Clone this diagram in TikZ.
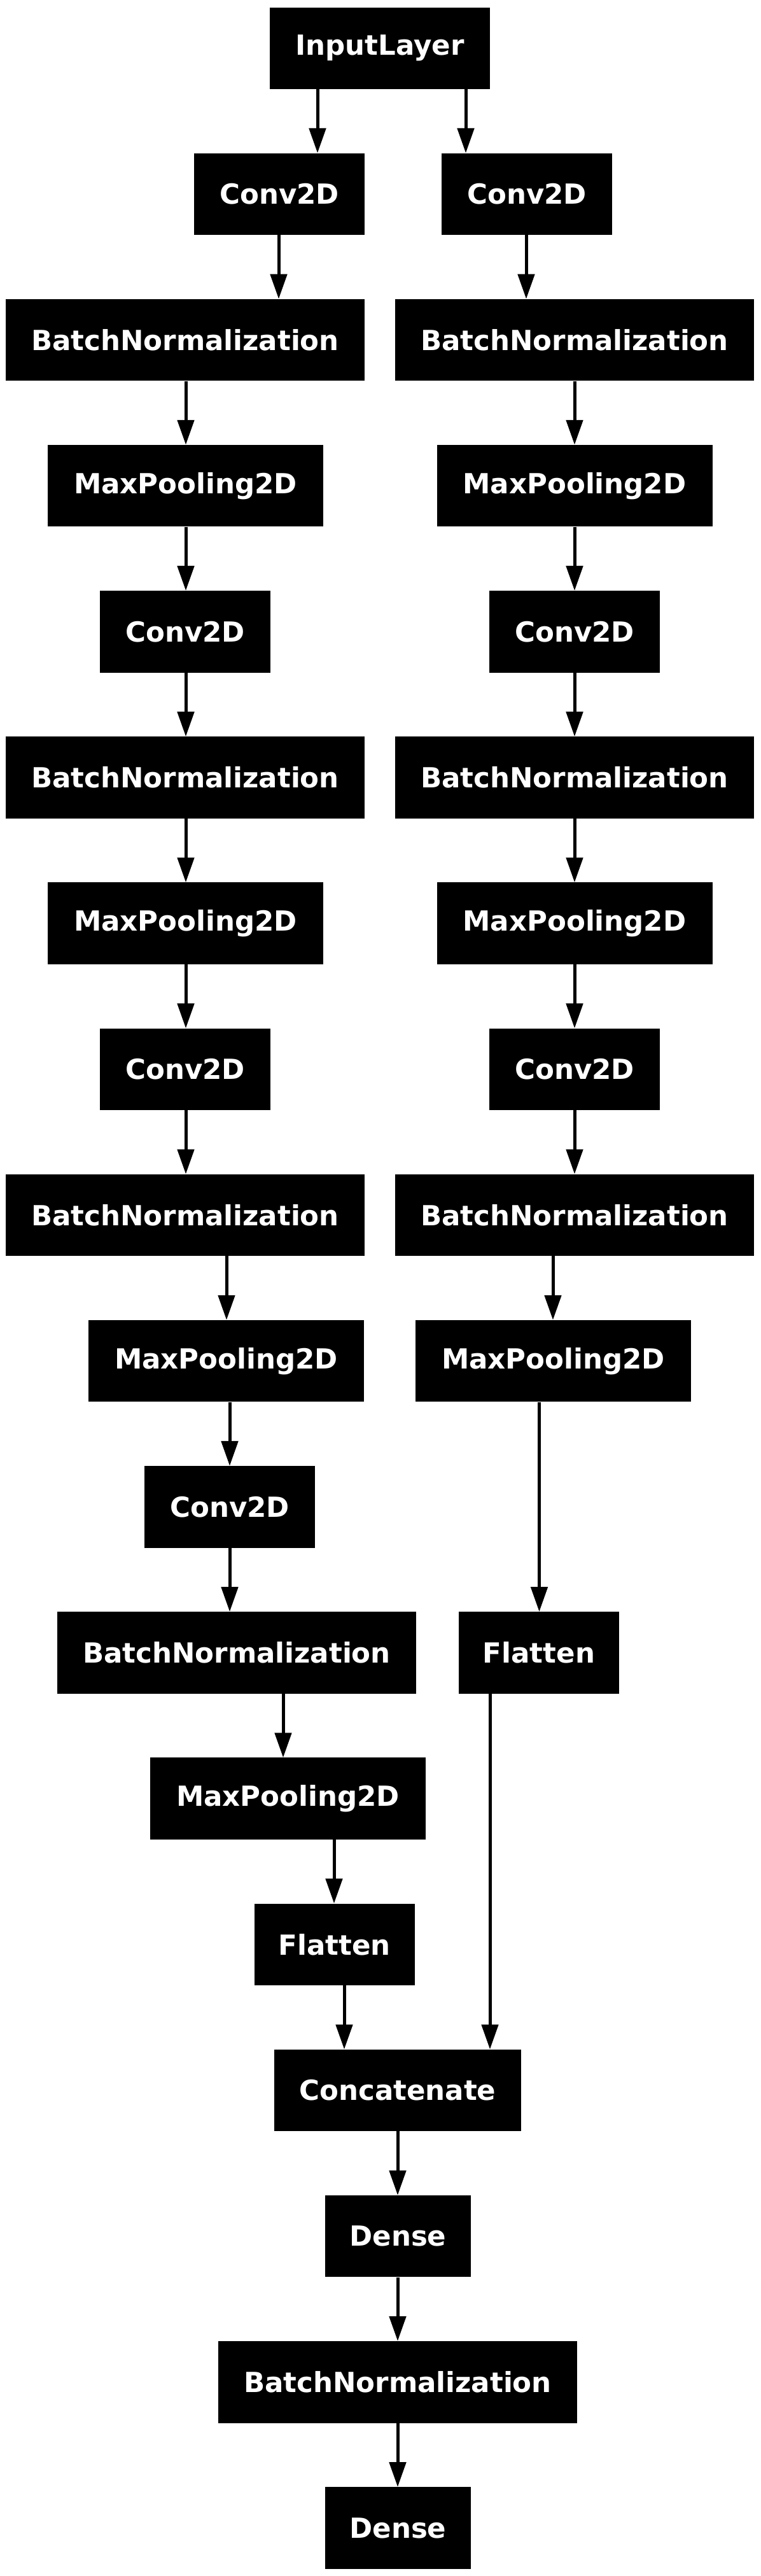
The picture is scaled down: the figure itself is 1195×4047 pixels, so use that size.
\documentclass[tikz,border=0pt]{standalone}
\usepackage{fontspec}
\setmainfont{DejaVu Sans}
\usetikzlibrary{arrows.meta}
\begin{document}
\begin{tikzpicture}[x=1pt,y=-1pt,
  lay/.style={fill=black, draw=none, text=white, inner sep=0pt,
    minimum height=128.5pt, font=\fontsize{43.5}{50}\selectfont\bfseries},
  wIn/.style={lay, minimum width=345.5pt},
  wConv/.style={lay, minimum width=268pt},
  wBN/.style={lay, minimum width=564pt},
  wMP/.style={lay, minimum width=433pt},
  wFl/.style={lay, minimum width=252pt},
  wCat/.style={lay, minimum width=388pt},
  wDen/.style={lay, minimum width=229pt},
  arr/.style={line width=5pt, -{Triangle[length=39pt, width=26pt]}}]
\useasboundingbox (0,0) rectangle (1195,4047);
% rows
\node[wIn]   (in)   at (597,   75.75) {InputLayer};
\node[wConv] (c1l)  at (439,  304.9) {Conv2D};
\node[wConv] (c1r)  at (828,  304.9) {Conv2D};
\node[wBN]   (b1l)  at (291,  534.1) {BatchNormalization};
\node[wBN]   (b1r)  at (903,  534.1) {BatchNormalization};
\node[wMP]   (m1l)  at (291.5,763.2) {MaxPooling2D};
\node[wMP]   (m1r)  at (903,  763.2) {MaxPooling2D};
\node[wConv] (c2l)  at (291,  992.4) {Conv2D};
\node[wConv] (c2r)  at (903,  992.4) {Conv2D};
\node[wBN]   (b2l)  at (291, 1221.6) {BatchNormalization};
\node[wBN]   (b2r)  at (903, 1221.6) {BatchNormalization};
\node[wMP]   (m2l)  at (291.5,1450.7) {MaxPooling2D};
\node[wMP]   (m2r)  at (903, 1450.7) {MaxPooling2D};
\node[wConv] (c3l)  at (291, 1679.9) {Conv2D};
\node[wConv] (c3r)  at (903, 1679.9) {Conv2D};
\node[wBN]   (b3l)  at (291, 1909.0) {BatchNormalization};
\node[wBN]   (b3r)  at (903, 1909.0) {BatchNormalization};
\node[wMP]   (m3l)  at (355.5,2138.2) {MaxPooling2D};
\node[wMP]   (m3r)  at (869.5,2138.2) {MaxPooling2D};
\node[wConv] (c4l)  at (361, 2367.4) {Conv2D};
\node[wBN]   (b4l)  at (372, 2596.5) {BatchNormalization};
\node[wFl]   (flr)  at (847, 2596.5) {Flatten};
\node[wMP]   (m4l)  at (452.5,2825.7) {MaxPooling2D};
\node[wFl]   (fll)  at (525.5,3054.8) {Flatten};
\node[wCat]  (cat)  at (625, 3284.0) {Concatenate};
\node[wDen]  (d1)   at (625.5,3513.2) {Dense};
\node[wBN]   (b5)   at (625, 3742.3) {BatchNormalization};
\node[wDen]  (d2)   at (625.5,3971.5) {Dense};
% connectors
\draw[arr] (in.south -| 499,0) -- (c1l.north -| 499,0);
\draw[arr] (in.south -| 732,0) -- (c1r.north -| 732,0);
\draw[arr] (c1l.south -| 438,0) -- (b1l.north -| 438,0);
\draw[arr] (c1r.south -| 827,0) -- (b1r.north -| 827,0);
\draw[arr] (b1l.south -| 292,0) -- (m1l.north -| 292,0);
\draw[arr] (b1r.south -| 903,0) -- (m1r.north -| 903,0);
\draw[arr] (m1l.south -| 292,0) -- (c2l.north -| 292,0);
\draw[arr] (m1r.south -| 903,0) -- (c2r.north -| 903,0);
\draw[arr] (c2l.south -| 292,0) -- (b2l.north -| 292,0);
\draw[arr] (c2r.south -| 903,0) -- (b2r.north -| 903,0);
\draw[arr] (b2l.south -| 292,0) -- (m2l.north -| 292,0);
\draw[arr] (b2r.south -| 903,0) -- (m2r.north -| 903,0);
\draw[arr] (m2l.south -| 292,0) -- (c3l.north -| 292,0);
\draw[arr] (m2r.south -| 903,0) -- (c3r.north -| 903,0);
\draw[arr] (c3l.south -| 292,0) -- (b3l.north -| 292,0);
\draw[arr] (c3r.south -| 903,0) -- (b3r.north -| 903,0);
\draw[arr] (b3l.south -| 356,0) -- (m3l.north -| 356,0);
\draw[arr] (b3r.south -| 869,0) -- (m3r.north -| 869,0);
\draw[arr] (m3l.south -| 361,0) -- (c4l.north -| 361,0);
\draw[arr] (m3r.south -| 847.5,0) -- (flr.north -| 847.5,0);
\draw[arr] (c4l.south -| 361,0) -- (b4l.north -| 361,0);
\draw[arr] (b4l.south -| 445,0) -- (m4l.north -| 445,0);
\draw[arr] (m4l.south -| 525,0) -- (fll.north -| 525,0);
\draw[arr] (fll.south -| 541,0) -- (cat.north -| 541,0);
\draw[arr] (flr.south -| 770,0) -- (cat.north -| 770,0);
\draw[arr] (cat.south -| 625,0) -- (d1.north -| 625,0);
\draw[arr] (d1.south -| 625,0) -- (b5.north -| 625,0);
\draw[arr] (b5.south -| 625,0) -- (d2.north -| 625,0);
\end{tikzpicture}
\end{document}
